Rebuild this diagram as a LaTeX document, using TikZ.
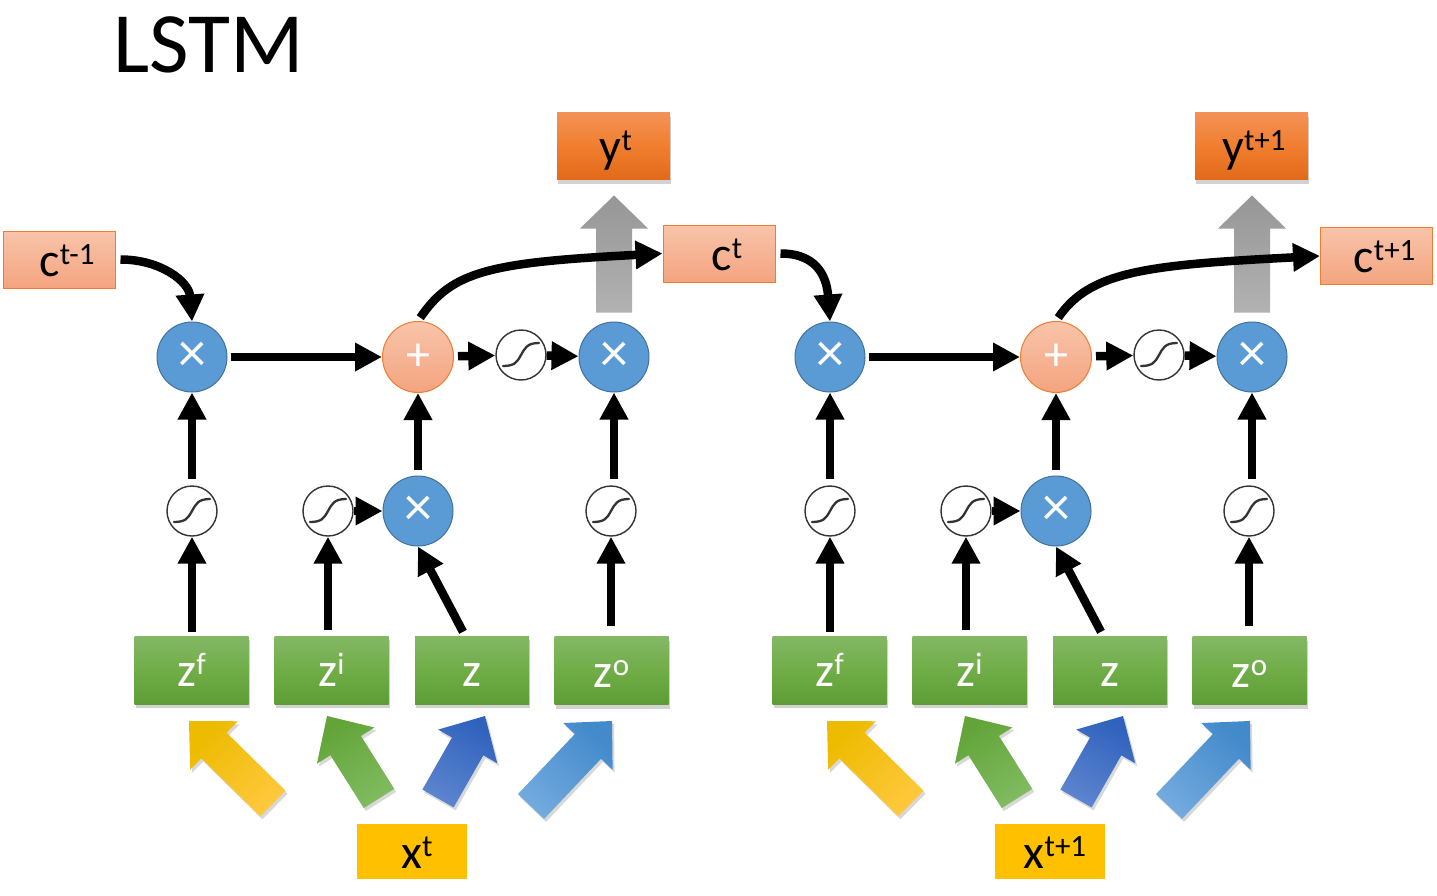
\documentclass[tikz,border=0pt]{standalone}
\usepackage{fontspec}
\setmainfont{Carlito}
\usetikzlibrary{arrows.meta,calc,shadows}
\definecolor{cTop}{HTML}{F8C4AA}
\definecolor{cBot}{HTML}{F4A47F}
\definecolor{cEdge}{HTML}{ED7D31}
\definecolor{yTop}{HTML}{F39256}
\definecolor{yMid}{HTML}{F07E2E}
\definecolor{yBot}{HTML}{E2691A}
\definecolor{gTop}{HTML}{84B866}
\definecolor{gMid}{HTML}{70AD47}
\definecolor{gBot}{HTML}{5E9C35}
\definecolor{xYel}{HTML}{FFC000}
\definecolor{bFill}{HTML}{5B9BD5}
\definecolor{bEdge}{HTML}{41719C}
\definecolor{sEdge}{HTML}{333333}
\definecolor{grTop}{HTML}{969696}
\definecolor{grBot}{HTML}{B2B2B2}
\definecolor{yeTip}{HTML}{EDBB00}
\definecolor{yeTail}{HTML}{FFC83D}
\definecolor{grnTip}{HTML}{62A438}
\definecolor{grnTail}{HTML}{80BB60}
\definecolor{dbTip}{HTML}{2F62BD}
\definecolor{dbTail}{HTML}{5C84CE}
\definecolor{lbTip}{HTML}{438ACB}
\definecolor{lbTail}{HTML}{72AADE}
\newcommand\sups[1]{\raisebox{12pt}{\fontsize{31}{31}\selectfont #1}}
\tikzset{
  conn/.style={line width=8.5pt,-{Triangle[length=27pt,width=27pt]}},
  boxtext/.style={inner sep=0pt,text height=33pt,text depth=0pt,font=\fontsize{48}{48}\selectfont},
  cbox/.style={boxtext,draw=cEdge,line width=1pt,top color=cTop,bottom color=cBot,minimum width=112pt,minimum height=57pt,
    execute at begin node=\hspace*{16pt}},
  ybox/.style={boxtext,top color=yTop,bottom color=yBot,middle color=yMid,minimum width=113pt,minimum height=67pt,
    drop shadow={shadow xshift=1pt,shadow yshift=-4pt,opacity=0.35},execute at begin node=\hspace*{5pt}},
  zbox/.style={boxtext,text=white,top color=gTop,bottom color=gBot,middle color=gMid,minimum width=114pt,minimum height=68pt,
    drop shadow={shadow xshift=1pt,shadow yshift=-4pt,opacity=0.35}},
  xbox/.style={boxtext,fill=xYel,minimum width=110pt,minimum height=55pt,execute at begin node=\hspace*{10pt}},
  mult/.style={circle,fill=bFill,draw=bEdge,line width=1pt,minimum size=70pt,inner sep=0pt,text=white,font=\fontsize{56}{56}\selectfont},
  plusnode/.style={circle,top color=cTop,bottom color=cBot,draw=cEdge,line width=1pt,minimum size=71pt,inner sep=0pt,text=white,font=\fontsize{48}{48}\selectfont},
  sig/.style={circle,fill=white,draw=sEdge,line width=1.4pt,minimum size=50pt,inner sep=0pt,
    path picture={\draw[line width=2.3pt,line cap=round]
      ($(path picture bounding box.center)+(-18,11)$) .. controls +(12,0) and +(-4,7) ..
      (path picture bounding box.center) .. controls +(4,-7) and +(-12,0) ..
      ($(path picture bounding box.center)+(18,-12)$);}},
  grayarrow/.style={top color=grTop,bottom color=grBot},
  ashadow/.style={drop shadow={shadow xshift=2pt,shadow yshift=-3pt,opacity=0.3}}
}
\newcommand\barrow[6]{%
  \coordinate (#1t) at #2; \coordinate (#1p) at #3;
  \coordinate (#1h) at ($(#1p)!35pt!(#1t)$);
  \path[top color=#4,bottom color=#5,shading angle=#6,ashadow]
    ($(#1t)!18pt!90:(#1p)$) -- ($(#1h)!18pt!90:(#1p)$) -- ($(#1h)!34pt!90:(#1p)$) -- (#1p)
    -- ($(#1h)!34pt!-90:(#1p)$) -- ($(#1h)!18pt!-90:(#1p)$) -- ($(#1t)!18pt!-90:(#1p)$) -- cycle;
}
% #1 shift, #2 suffix, #3 c in, #4 c out, #5 x label, #6 y label
\newcommand\lstmcell[6]{%
\begin{scope}[xshift=#1]
  \node[mult] (fm#2) at (192,357) {×};
  \node[plusnode] (pl#2) at (418,357) {+};
  \node[sig] (sg#2) at (521,355) {};
  \node[mult] (om#2) at (614,357) {×};
  \node[sig] (sf#2) at (192,511) {};
  \node[sig] (si#2) at (328,511) {};
  \node[mult] (mi#2) at (418,511) {×};
  \node[sig] (so#2) at (611,511) {};
  \node[zbox] (zf#2) at (191.5,670) {z\sups{f}};
  \node[zbox] (zi#2) at (331.5,670) {z\sups{i}};
  \node[zbox] (zz#2) at (472,670) {z};
  \node[zbox] (zo#2) at (611.5,670.5) {z\sups{o}};
  \node[xbox] (x#2) at (412,851.5) {#5};
  \node[ybox] (y#2) at (613.5,146.5) {#6};
  \barrow{ya#2}{(273,803.5)}{(189,721)}{yeTip}{yeTail}{45}
  \barrow{ga#2}{(379,798.5)}{(327,716)}{grnTip}{grnTail}{32}
  \barrow{da#2}{(438,798.5)}{(485,716)}{dbTip}{dbTail}{-30}
  \barrow{la#2}{(531,806.5)}{(612,721)}{lbTip}{lbTail}{-44}
  \path[grayarrow] ($(om#2.north)+(-18,-9)$) -- ($(om#2.north)+(-18,-93)$) -- ($(om#2.north)+(-34,-93)$)
    -- ($(om#2.north)+(0,-126)$) -- ($(om#2.north)+(34,-93)$) -- ($(om#2.north)+(18,-93)$)
    -- ($(om#2.north)+(18,-9)$) -- cycle;
  \draw[conn,shorten <=5pt] (#3.east) .. controls +(45,0) and +(-3,-40) .. (fm#2.north);
  \draw[conn,shorten <=3pt] (fm#2) -- (pl#2);
  \draw[conn,shorten <=4pt] (pl#2.north) .. controls +(34,-50) and +(-173,9) .. (#4.west);
  \draw[conn,shorten <=4pt] (pl#2) -- (sg#2);
  \draw[conn] (sg#2) -- (om#2);
  \draw[conn,shorten <=6pt] (sf#2) -- (fm#2);
  \draw[conn,shorten <=4pt] (sf#2.south |- zf#2.north) -- (sf#2.south);
  \draw[conn,shorten <=6pt] (si#2.south |- zi#2.north) -- (si#2.south);
  \draw[conn] (si#2) -- (mi#2);
  \draw[conn] ($(zz#2.north)+(-9,-4)$) -- (mi#2.south);
  \draw[conn,shorten <=6pt] (mi#2) -- (pl#2);
  \draw[conn,shorten <=10pt] (so#2.south |- zo#2.north) -- (so#2.south);
  \draw[conn,shorten <=6pt] (om#2.south |- so#2.north) -- (om#2.south);
\end{scope}}
\begin{document}
\begin{tikzpicture}[x=1pt,y=-1pt]
\useasboundingbox (0,0) rectangle (1437,896);
\fill[white] (0,0) rectangle (1437,896);
\node[anchor=base west,inner sep=0pt,font=\fontsize{86}{86}\selectfont] (title) at (113,73) {LSTM};
\node[cbox] (cA) at (59,259.5) {c\sups{t-1}};
\node[cbox] (cB) at (719,253.5) {c\sups{t}};
\node[cbox] (cC) at (1376.5,256) {c\sups{t+1}};
\lstmcell{0pt}{a}{cA}{cB}{x\sups{t}}{y\sups{t}}
\lstmcell{638pt}{b}{cB}{cC}{x\sups{t+1}}{y\sups{t+1}}
\end{tikzpicture}
\end{document}
